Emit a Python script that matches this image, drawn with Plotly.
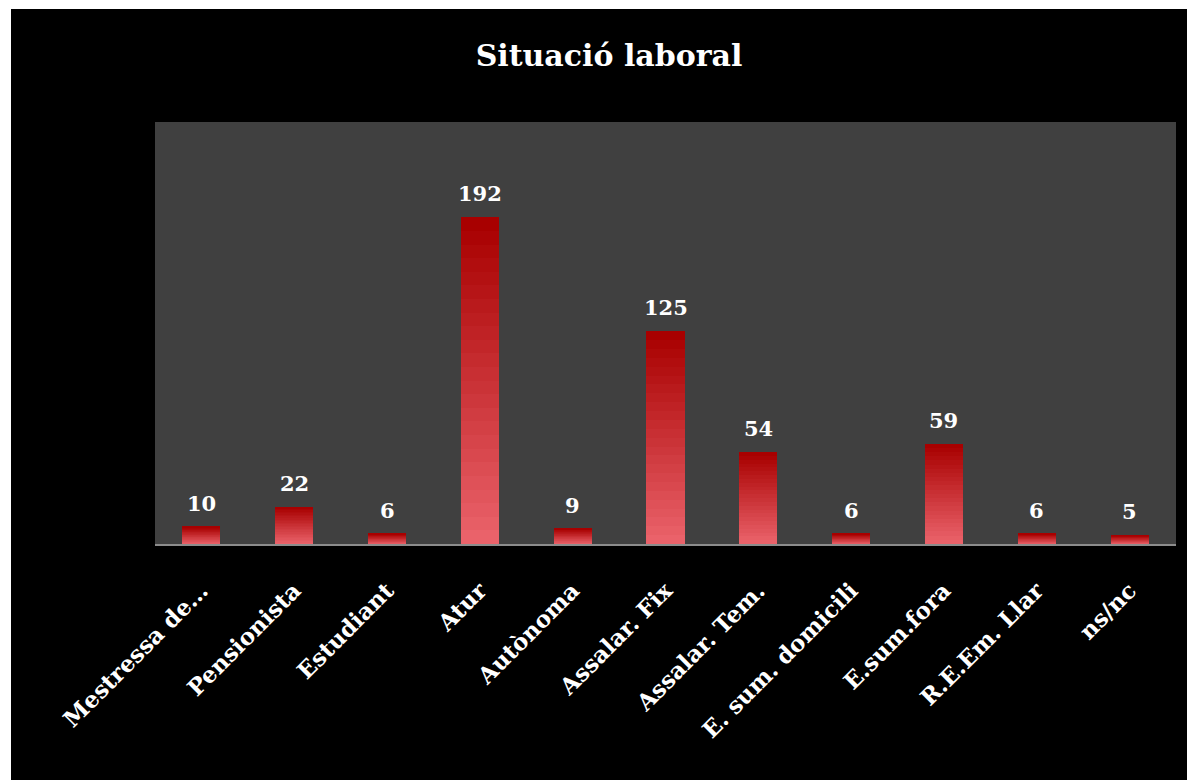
import plotly.graph_objects as go

categories = ['Mestressa de…', 'Pensionista', 'Estudiant', 'Atur', 'Autònoma',
              'Assalar. Fix', 'Assalar. Tem.', 'E. sum. domicili', 'E.sum.fora',
              'R.E.Em. Llar', 'ns/nc']
values = [10, 22, 6, 192, 9, 125, 54, 6, 59, 6, 5]
title_text = 'Situació laboral'

# page offset of 8px (body margin) taken into account
W, H = 1187, 772
L, R, T, B = 147, 19, 114, 236
pw, ph = W - L - R, H - T - B

FONT = 'DejaVu Serif'

# gradient colours (bottom light -> top dark)
c_bottom = (234, 98, 106)
c_top = (168, 0, 0)
N = 24

fig = go.Figure()
for i in range(N):
    t = i / (N - 1)
    col = tuple(round(c_bottom[k] + (c_top[k] - c_bottom[k]) * t) for k in range(3))
    fig.add_trace(go.Bar(
        x=categories,
        y=[v / N for v in values],
        marker=dict(color='rgb(%d,%d,%d)' % col, line=dict(width=0)),
        width=0.41,
        hoverinfo='skip',
        showlegend=False,
    ))

annotations = [
    dict(x=c, y=v, xref='x', yref='y', text='<b>%d</b>' % v, showarrow=False,
         yanchor='bottom', yshift=9,
         font=dict(family=FONT, size=21, color='white'))
    for c, v in zip(categories, values)
]

shapes = [
    dict(type='rect', xref='paper', yref='paper',
         x0=(3 - L) / pw, x1=(W + 5 - L) / pw,
         y0=-(H + 5 - (T + ph)) / ph, y1=(T + ph - 1) / ph,
         fillcolor='black', line=dict(width=0), layer='below'),
    dict(type='rect', xref='paper', yref='paper', x0=0, x1=1, y0=0, y1=1,
         fillcolor='#404040', line=dict(width=0), layer='below'),
]

fig.update_layout(
    width=W, height=H,
    margin=dict(l=L, r=R, t=T, b=B, autoexpand=False),
    paper_bgcolor='white', plot_bgcolor='rgba(0,0,0,0)',
    barmode='stack', bargap=0.59,
    shapes=shapes, annotations=annotations,
    title=dict(text='<b>' + title_text + '</b>', x=(601 - L) / pw, xref='paper',
               xanchor='center', y=(H - 47) / H, yanchor='middle',
               font=dict(family=FONT, size=30, color='white')),
    xaxis=dict(showgrid=False, zeroline=False, showline=True, linecolor='#8c8c8c',
               linewidth=2, tickangle=-45, ticks='outside', ticklen=22,
               tickcolor='rgba(0,0,0,0)',
               tickfont=dict(family=FONT, size=23, color='white', weight='bold')),
    yaxis=dict(range=[0, 248], showgrid=False, zeroline=False, showticklabels=False,
               showline=False),
)

fig.write_html('out.html')
